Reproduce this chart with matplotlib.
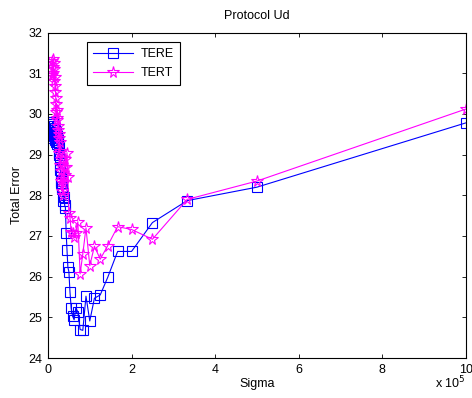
#!/usr/bin/env python3
# Total error vs sigma for protocol Ud (TERE vs TERT), MATLAB-style figure.

import matplotlib
matplotlib.use("Agg")
from matplotlib import pyplot as plt
from matplotlib.ticker import FuncFormatter, MultipleLocator

plt.rcParams["font.family"] = ["Liberation Sans", "DejaVu Sans"]
plt.rcParams["font.size"] = 9

# sigma values (raw units)
SIGMA = [
    1000000, 500000, 333333, 250000, 200000, 166667, 142857, 125000, 111111,
    100000, 90909, 83333, 76923, 71429, 66667, 62500, 58824, 55556, 52632,
    50000, 47619, 45455, 43478, 41667, 40000, 38462, 37037, 35714, 34483,
    33333, 32258, 31250, 30303, 29412, 28571, 27778, 27027, 26316, 25641,
    25000, 23810, 22727, 21739, 20833, 20000, 19231, 18519, 17857, 17241,
    16667, 15385, 14286, 13333, 12500, 11765, 11111, 10526, 10000,
]

TERE = [
    29.78, 28.20, 27.87, 27.33, 26.62, 26.62, 25.98, 25.55, 25.47, 24.91,
    25.52, 24.68, 24.70, 25.13, 25.24, 24.94, 25.03, 25.22, 25.62, 26.12,
    26.23, 26.66, 27.08, 27.70, 27.75, 27.97, 27.85, 28.05, 28.20, 28.15,
    28.35, 28.30, 28.55, 28.70, 28.62, 28.90, 29.05, 29.00, 29.20, 29.35,
    29.30, 29.45, 29.25, 29.40, 29.55, 29.30, 29.50, 29.40, 29.65, 29.35,
    29.60, 29.45, 29.70, 29.50, 29.80, 29.60, 29.40, 29.75,
]

TERT = [
    30.12, 28.35, 27.90, 26.92, 27.16, 27.23, 26.76, 26.43, 26.75, 26.27,
    27.20, 26.56, 26.07, 27.35, 27.08, 26.98, 27.07, 27.11, 27.45, 27.56,
    28.45, 29.05, 28.70, 28.90, 28.50, 28.70, 28.30, 28.00, 28.40, 28.10,
    28.35, 28.60, 28.90, 28.75, 29.10, 29.30, 29.05, 29.50, 29.40, 29.70,
    29.60, 29.90, 30.10, 29.85, 30.25, 30.05, 30.40, 30.70, 30.55, 30.90,
    31.10, 30.80, 31.25, 31.00, 31.35, 31.15, 30.95, 31.30,
]

BLUE = "#0000ff"
MAGENTA = "#ff00ff"

fig = plt.figure(figsize=(4.72, 3.98), dpi=100)
ax = fig.add_axes([0.1017, 0.1005, 0.885, 0.8175])

ax.plot(SIGMA, TERE, color=BLUE, lw=0.8, marker="s", ms=6.5,
        mfc="none", mec=BLUE, mew=0.8, label="TERE")
ax.plot(SIGMA, TERT, color=MAGENTA, lw=0.8, marker="*", ms=8.5,
        mfc="none", mec=MAGENTA, mew=0.8, label="TERT")

ax.set_xlim(0, 1e6)
ax.set_ylim(24, 32)
ax.xaxis.set_major_locator(MultipleLocator(2e5))
ax.yaxis.set_major_locator(MultipleLocator(1))
ax.xaxis.set_major_formatter(FuncFormatter(lambda v, p: f"{v / 1e5:g}"))
ax.tick_params(direction="in", top=True, right=True, length=3, width=0.6,
               labelsize=9, pad=4)
for s in ax.spines.values():
    s.set_linewidth(0.8)

ax.set_title("Protocol Ud", fontsize=9, pad=10)
ax.set_xlabel("Sigma", fontsize=9, labelpad=2)
ax.set_ylabel("Total Error", fontsize=9, labelpad=4)
ax.text(1.0, -0.05, "x 10$^5$", transform=ax.transAxes, ha="right",
        va="top", fontsize=9)

leg = ax.legend(loc="upper left", bbox_to_anchor=(0.093, 0.971),
                borderaxespad=0, fancybox=False, framealpha=1,
                edgecolor="black", fontsize=9, handlelength=3.2,
                borderpad=0.5, labelspacing=0.55, handletextpad=0.6)
leg.get_frame().set_linewidth(0.8)

fig.savefig("out.png", dpi=100)
